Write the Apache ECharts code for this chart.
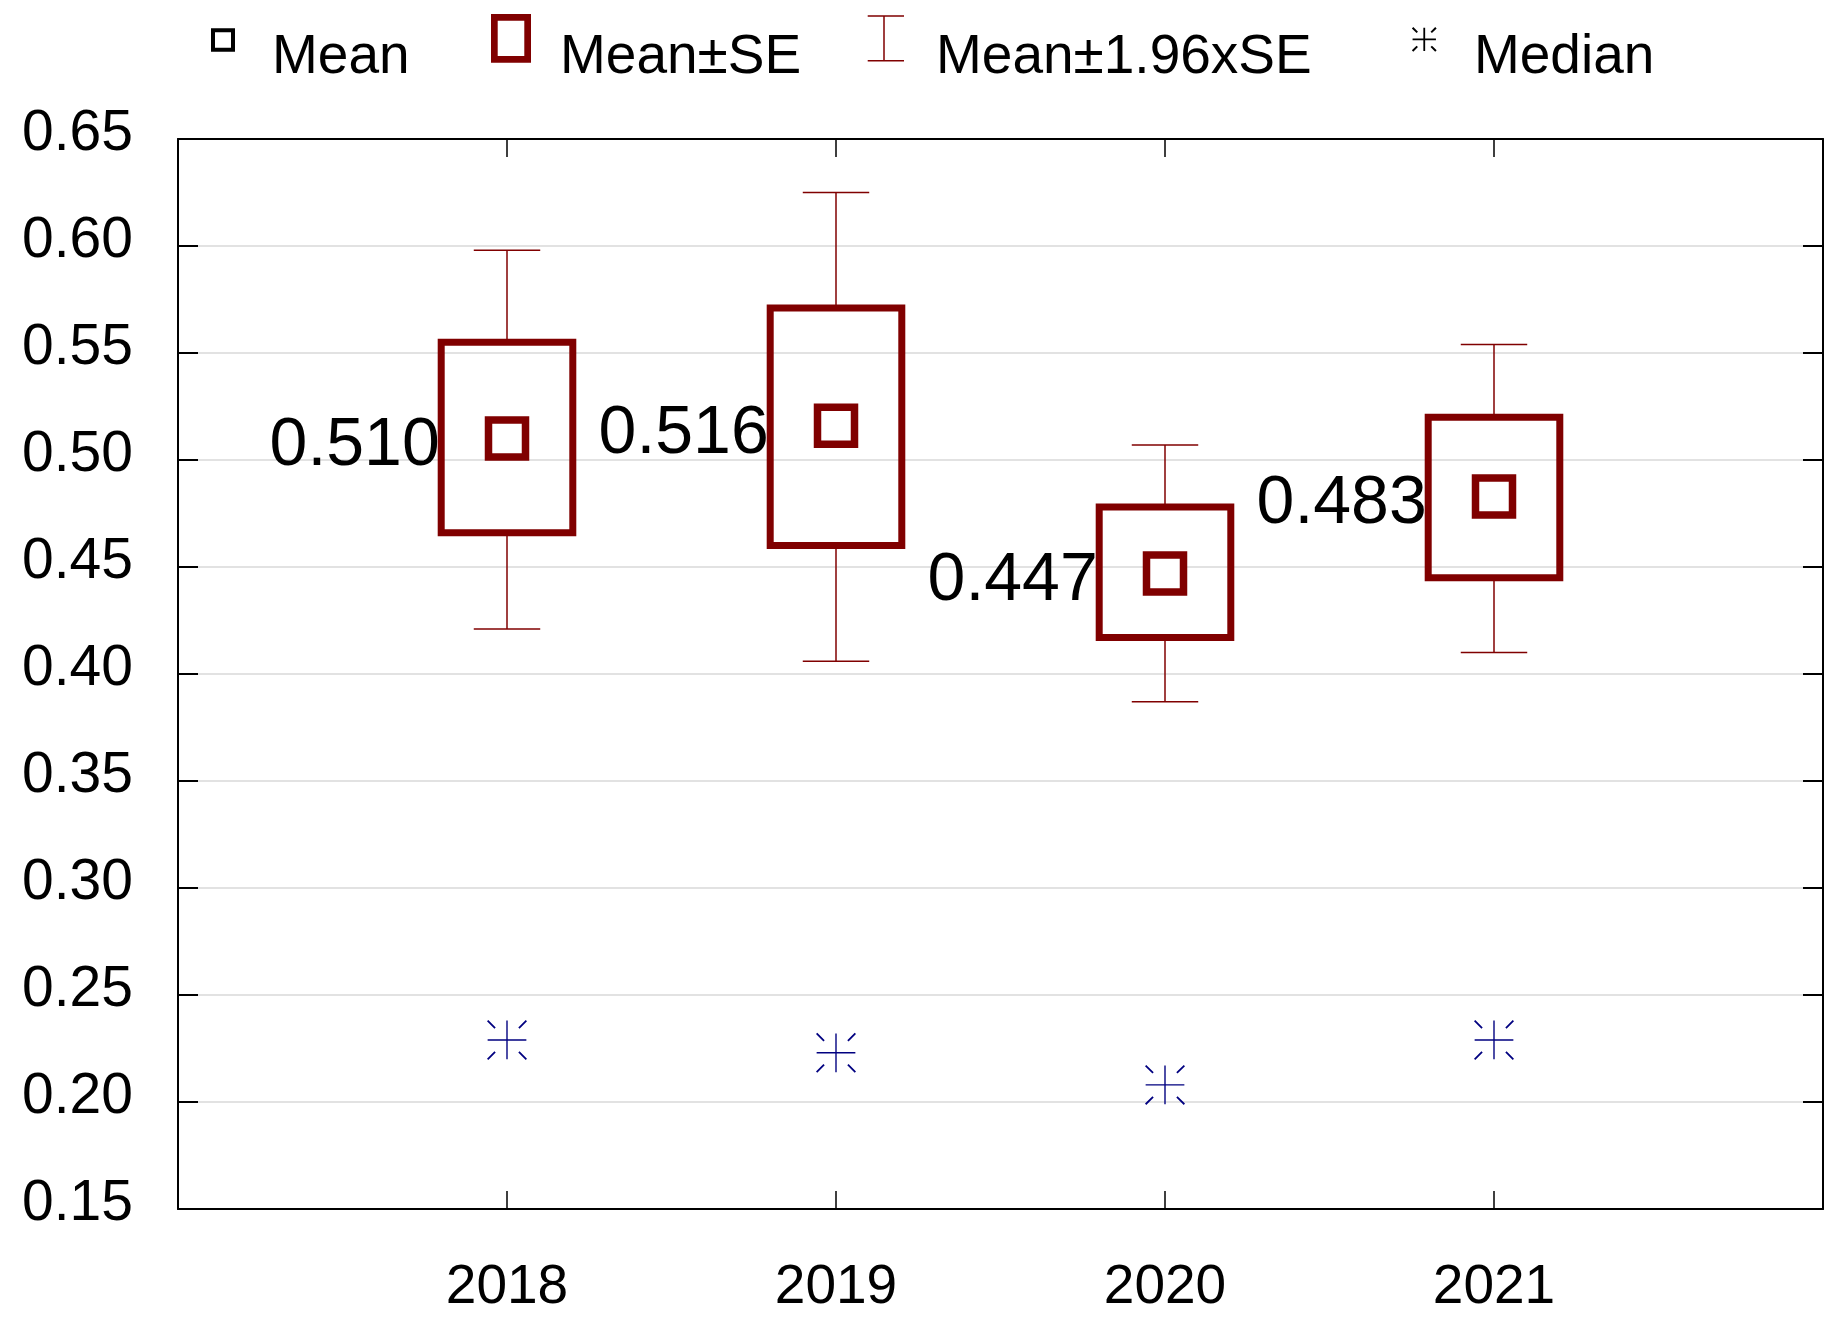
<!DOCTYPE html>
<html>
<head>
<meta charset="utf-8">
<script src="https://cdn.jsdelivr.net/npm/echarts@6/dist/echarts.min.js"></script>
<style>
  html, body { margin: 0; padding: 0; background: #ffffff; }
  #chart { width: 1844px; height: 1329px; }
</style>
</head>
<body>
<div id="chart"></div>
<script>
// ---- data ----
const years   = [2018, 2019, 2020, 2021];
const means   = [0.510, 0.516, 0.447, 0.483];
const seLow   = [0.466, 0.460, 0.417, 0.445];
const seHigh  = [0.555, 0.571, 0.478, 0.520];
const ciLow   = [0.421, 0.406, 0.387, 0.410];
const ciHigh  = [0.598, 0.625, 0.507, 0.554];
const medians = [0.229, 0.223, 0.208, 0.229];
const yTicks  = [0.15, 0.20, 0.25, 0.30, 0.35, 0.40, 0.45, 0.50, 0.55, 0.60, 0.65];
const seriesNames = ['Mean', 'Mean\u00b1SE', 'Mean\u00b11.96xSE', 'Median'];

// ---- style constants ----
const DARK_RED = '#800000';
const NAVY = '#000080';
const FONT = '"Liberation Sans", Arial, Helvetica, sans-serif';
const BOX_HALF = 0.2;   // half width of the SE box, x units
const CAP_HALF = 0.101; // half width of whisker caps, x units

// filled-polygon helpers for symbol paths
function f(n) { return (Math.round(n * 100) / 100).toString(); }
function seg(x1, y1, x2, y2, w) {
  const dx = x2 - x1, dy = y2 - y1, L = Math.hypot(dx, dy);
  const nx = -dy / L * w / 2, ny = dx / L * w / 2;
  return 'M' + f(x1 + nx) + ',' + f(y1 + ny) + 'L' + f(x2 + nx) + ',' + f(y2 + ny) +
         'L' + f(x2 - nx) + ',' + f(y2 - ny) + 'L' + f(x1 - nx) + ',' + f(y1 - ny) + 'Z';
}
function rectP(x, y, w, h) {
  return 'M' + f(x) + ',' + f(y) + 'L' + f(x + w) + ',' + f(y) + 'L' + f(x + w) + ',' + f(y + h) + 'L' + f(x) + ',' + f(y + h) + 'Z';
}
function ring(x0, y0, x1, y1, t) {
  const w = x1 - x0, h = y1 - y0;
  return rectP(x0, y0, w, t) + rectP(x0, y1 - t, w, t) + rectP(x0, y0, t, h) + rectP(x1 - t, y0, t, h);
}
function asterisk(cx, cy, r, rIn, w, wd) {
  return seg(cx, cy - r, cx, cy + r, w) + seg(cx - r, cy, cx + r, cy, w) +
    seg(cx + rIn, cy - rIn, cx + r, cy - r, wd) + seg(cx - rIn, cy - rIn, cx - r, cy - r, wd) +
    seg(cx + rIn, cy + rIn, cx + r, cy + r, wd) + seg(cx - rIn, cy + rIn, cx - r, cy + r, wd);
}
function boxed(W, H, body) { return 'path://M0,0' + body + 'M' + W + ',' + H; }

// legend geometry (box width / height) and icons
const LG = [
  { left: 195, top: 27, W: 72, H: 62, color: '#000000',
    icon: () => ring(16, 1.3, 40, 24.7, 4) },
  { left: 480, top: 13, W: 75, H: 90, color: DARK_RED,
    icon: () => ring(11, 1, 51, 49.7, 6.7) },
  { left: 860, top: 15, W: 71, H: 86, color: DARK_RED,
    icon: () => seg(7.7, 1, 44, 1, 1.5) + seg(7.7, 45.7, 44, 45.7, 1.5) + seg(24, 1, 24, 45.7, 1.5) },
  { left: 1400, top: 27, W: 69, H: 62, color: '#000000',
    icon: () => asterisk(24.3, 12.3, 11.7, 7, 1.8, 2) }
];

const legends = LG.map((g, i) => ({
  show: true,
  left: g.left,
  top: g.top,
  padding: 0,
  orient: 'horizontal',
  selectedMode: false,
  itemWidth: g.W,
  itemHeight: g.H,
  symbolKeepAspect: true,
  itemStyle: { color: g.color, borderWidth: 0, borderColor: 'transparent' },
  textStyle: { color: '#000', fontSize: 55, fontFamily: FONT },
  data: [{ name: seriesNames[i], icon: boxed(g.W, g.H, g.icon()) }]
}));

const medianSymbol = 'path://M-20,-20' + asterisk(0, 0, 19.5, 12, 1.4, 1.8) + 'M20,20';

const whiskerData = years.map((y, i) => [y, ciLow[i], seLow[i], seHigh[i], ciHigh[i]]);
const boxData = years.map((y, i) => [y, seLow[i], seHigh[i]]);
const meanData = years.map((y, i) => [y, means[i]]);
const medianData = years.map((y, i) => [y, medians[i]]);

const chart = echarts.init(document.getElementById('chart'), null, { renderer: 'canvas' });

const option = {
  backgroundColor: '#ffffff',
  animation: false,
  legend: legends,
  grid: { left: 178, right: 21, top: 139, bottom: 120, containLabel: false },
  xAxis: [
    {
      type: 'value', position: 'bottom', min: 2017, max: 2022, interval: 1,
      axisLine: { show: true, onZero: false, lineStyle: { color: '#000', width: 2 } },
      axisTick: { show: true, inside: true, length: 18, customValues: years, lineStyle: { color: '#000', width: 1.5 } },
      axisLabel: { show: true, customValues: years, margin: 51, color: '#000', fontSize: 55, fontFamily: FONT,
                   formatter: v => String(v) },
      splitLine: { show: false }
    },
    {
      type: 'value', position: 'top', min: 2017, max: 2022, interval: 1,
      axisLine: { show: true, onZero: false, lineStyle: { color: '#000', width: 2 } },
      axisTick: { show: true, inside: true, length: 18, customValues: years, lineStyle: { color: '#000', width: 1.5 } },
      axisLabel: { show: false },
      splitLine: { show: false }
    }
  ],
  yAxis: [
    {
      type: 'value', position: 'left', min: 0.15, max: 0.65, interval: 0.05,
      axisLine: { show: true, onZero: false, lineStyle: { color: '#000', width: 2 } },
      axisTick: { show: true, inside: true, length: 20, customValues: yTicks, lineStyle: { color: '#000', width: 2 } },
      axisLabel: { show: true, customValues: yTicks, margin: 45, color: '#000', fontSize: 57, fontFamily: FONT,
                   verticalAlign: 'bottom', lineHeight: 10, formatter: v => v.toFixed(2) },
      splitLine: { show: true, lineStyle: { color: '#d9d9d9', width: 1.5 } }
    },
    {
      type: 'value', position: 'right', min: 0.15, max: 0.65, interval: 0.05,
      axisLine: { show: true, onZero: false, lineStyle: { color: '#000', width: 2 } },
      axisTick: { show: true, inside: true, length: 20, customValues: yTicks, lineStyle: { color: '#000', width: 2 } },
      axisLabel: { show: false },
      splitLine: { show: false }
    }
  ],
  series: [
    {
      name: seriesNames[2],
      type: 'custom',
      xAxisIndex: 0, yAxisIndex: 0,
      silent: true,
      z: 2,
      itemStyle: { color: DARK_RED },
      encode: { x: 0, y: [1, 2, 3, 4] },
      data: whiskerData,
      renderItem: function (params, api) {
        const x = api.value(0);
        const pLo = api.coord([x, api.value(1)]);
        const pSeLo = api.coord([x, api.value(2)]);
        const pSeHi = api.coord([x, api.value(3)]);
        const pHi = api.coord([x, api.value(4)]);
        const xl = api.coord([x - CAP_HALF, api.value(4)])[0];
        const xr = api.coord([x + CAP_HALF, api.value(4)])[0];
        const style = { stroke: DARK_RED, lineWidth: 1.5, fill: null };
        return {
          type: 'group',
          children: [
            { type: 'line', shape: { x1: pHi[0], y1: pHi[1], x2: pSeHi[0], y2: pSeHi[1] }, style: style },
            { type: 'line', shape: { x1: pSeLo[0], y1: pSeLo[1], x2: pLo[0], y2: pLo[1] }, style: style },
            { type: 'line', shape: { x1: xl, y1: pHi[1], x2: xr, y2: pHi[1] }, style: style },
            { type: 'line', shape: { x1: xl, y1: pLo[1], x2: xr, y2: pLo[1] }, style: style }
          ]
        };
      }
    },
    {
      name: seriesNames[1],
      type: 'custom',
      xAxisIndex: 0, yAxisIndex: 0,
      silent: true,
      z: 3,
      itemStyle: { color: DARK_RED },
      encode: { x: 0, y: [1, 2] },
      data: boxData,
      renderItem: function (params, api) {
        const x = api.value(0);
        const a = api.coord([x - BOX_HALF, api.value(2)]);
        const b = api.coord([x + BOX_HALF, api.value(1)]);
        return {
          type: 'rect',
          shape: { x: a[0], y: a[1], width: b[0] - a[0], height: b[1] - a[1] },
          style: { fill: null, stroke: DARK_RED, lineWidth: 7 }
        };
      }
    },
    {
      name: seriesNames[0],
      type: 'scatter',
      xAxisIndex: 0, yAxisIndex: 0,
      silent: true,
      z: 4,
      symbol: 'rect',
      symbolSize: 37,
      itemStyle: { color: '#ffffff', borderColor: DARK_RED, borderWidth: 7.5, opacity: 1 },
      label: {
        show: true,
        position: 'left',
        distance: 45,
        offset: [0, 8],
        color: '#000',
        fontSize: 68,
        fontFamily: FONT,
        formatter: p => p.value[1].toFixed(3)
      },
      emphasis: { disabled: true },
      data: meanData
    },
    {
      name: seriesNames[3],
      type: 'scatter',
      xAxisIndex: 0, yAxisIndex: 0,
      silent: true,
      z: 4,
      symbol: medianSymbol,
      symbolSize: 40,
      itemStyle: { color: NAVY, borderWidth: 0, opacity: 1 },
      emphasis: { disabled: true },
      data: medianData
    }
  ]
};

chart.setOption(option);
</script>
</body>
</html>
